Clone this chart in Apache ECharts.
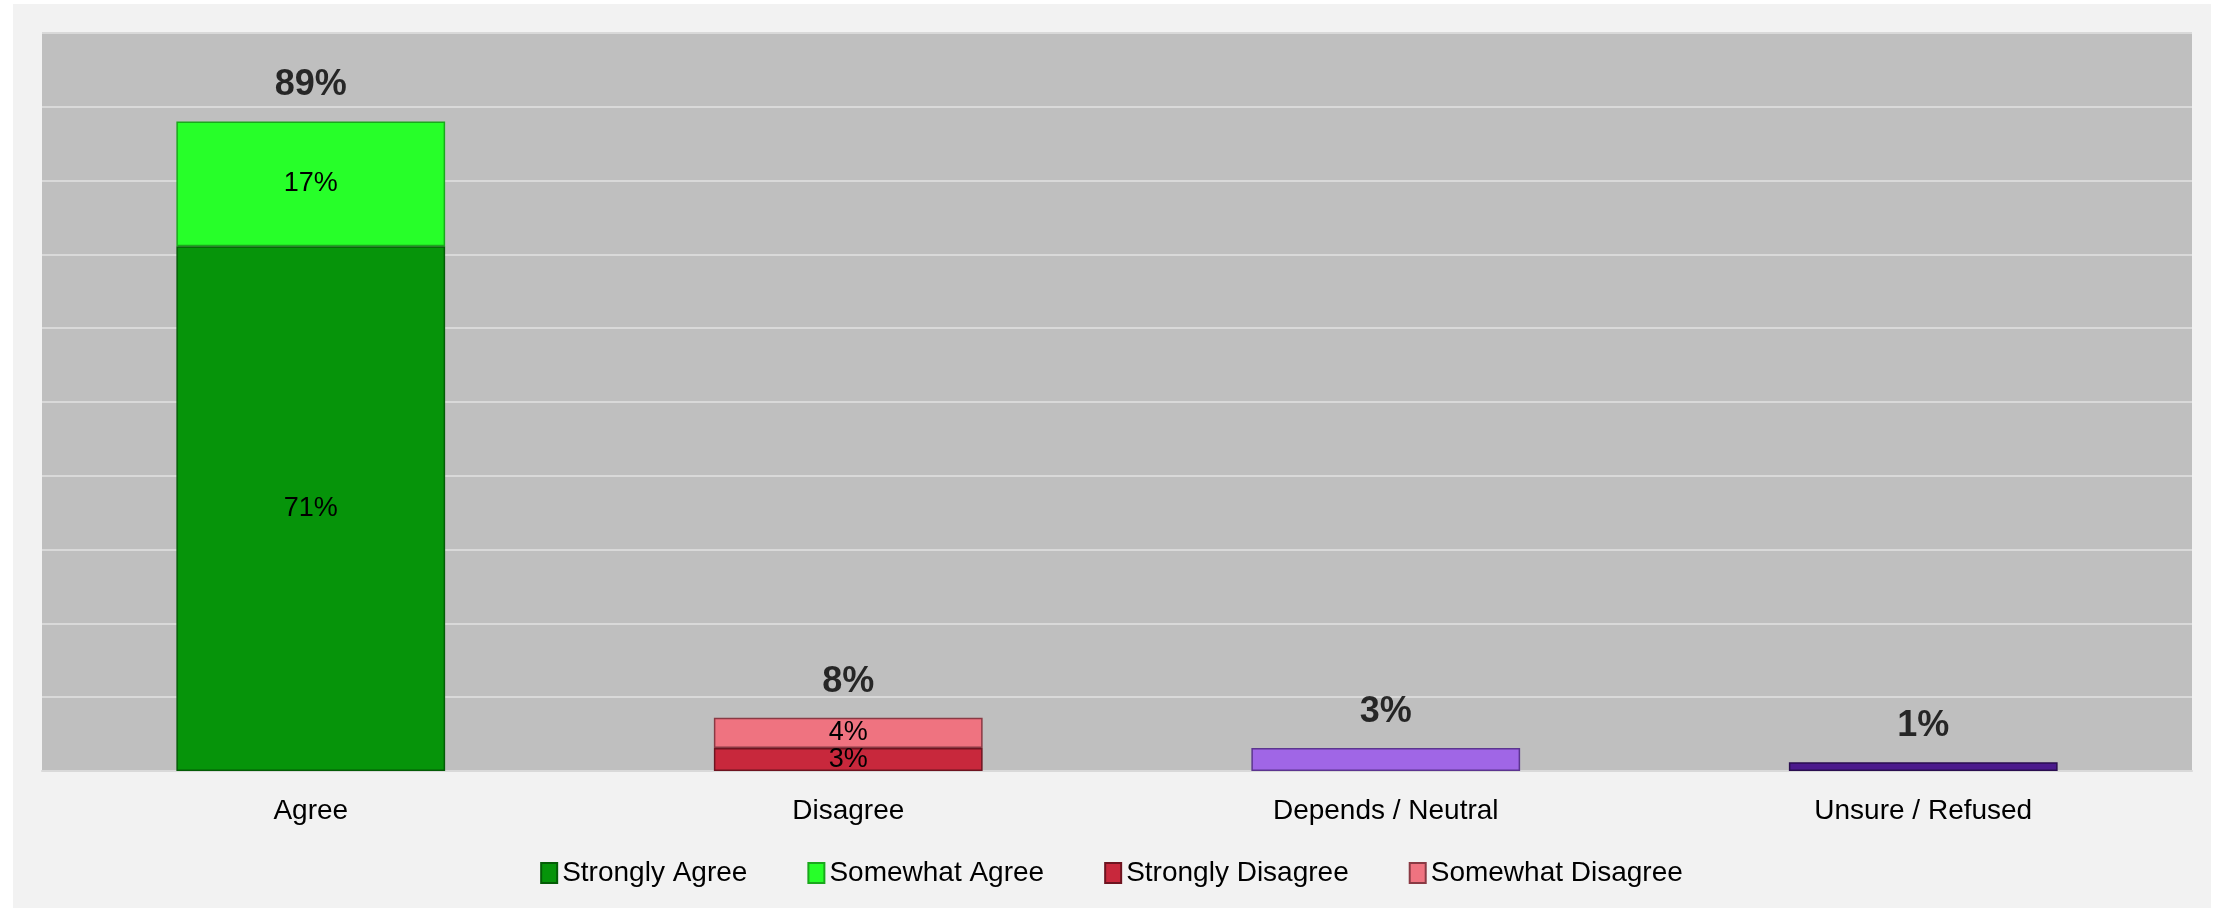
<!DOCTYPE html>
<html>
<head>
<meta charset="utf-8">
<script src="https://cdn.jsdelivr.net/npm/echarts@6/dist/echarts.min.js"></script>
<style>
  html, body { margin: 0; padding: 0; background: #ffffff; }
  #wrap { position: relative; width: 2223px; height: 912px; }
  #panel { position: absolute; left: 13px; top: 4px; width: 2198px; height: 904px; background: #f2f2f2; }
  #chart { position: absolute; left: 0; top: 0; width: 2223px; height: 912px; }
</style>
</head>
<body>
<div id="wrap">
  <div id="panel"></div>
  <div id="chart"></div>
</div>
<script>
// ---- data ----
const categories = ['Agree', 'Disagree', 'Depends / Neutral', 'Unsure / Refused'];
const stronglyAgree    = [71.1, null, null, null];
const somewhatAgree    = [16.9, null, null, null];
const stronglyDisagree = [null, 3.1, null, null];
const somewhatDisagree = [null, 4.1, null, null];
const dependsNeutral   = [null, null, 3.1, null];
const unsureRefused    = [null, null, null, 1.2];
const totalLabels      = [89, 8, 3, 1];
const yTicks = { min: 0, max: 100, interval: 10 };

const FONT = 'Liberation Sans';
const toData = arr => arr.map(v => (v === null ? '-' : v));
const stackTop = categories.map((_, i) =>
  [stronglyAgree, somewhatAgree, stronglyDisagree, somewhatDisagree, dependsNeutral, unsureRefused]
    .reduce((s, a) => s + (a[i] || 0), 0));

function barSeries(name, arr, color, border, showLabel) {
  return {
    name: name,
    type: 'bar',
    stack: 'total',
    barWidth: '50%',
    data: toData(arr),
    itemStyle: { color: color, borderColor: border, borderWidth: 1.5 },
    label: {
      show: showLabel,
      position: 'inside',
      fontFamily: FONT,
      fontSize: 27,
      color: '#000',
      formatter: p => Math.round(p.value) + '%'
    },
    emphasis: { disabled: true }
  };
}

const chart = echarts.init(document.getElementById('chart'), null, { renderer: 'canvas' });
chart.setOption({
  backgroundColor: 'transparent',
  animation: false,
  textStyle: { fontFamily: FONT },
  grid: {
    left: 42, right: 31, top: 33, bottom: 141,
    show: true, backgroundColor: '#bfbfbf', borderWidth: 0
  },
  legend: {
    data: ['Strongly Agree', 'Somewhat Agree', 'Strongly Disagree', 'Somewhat Disagree'],
    left: 'center',
    top: 854,
    itemWidth: 16,
    itemHeight: 20,
    itemGap: 60,
    icon: 'rect',
    textStyle: { fontFamily: FONT, fontSize: 28, color: '#000' }
  },
  xAxis: {
    type: 'category',
    data: categories,
    axisLine: { show: true, lineStyle: { color: '#d9d9d9', width: 2 } },
    axisTick: { show: false },
    axisLabel: { fontFamily: FONT, fontSize: 28, color: '#000', margin: 26 }
  },
  yAxis: {
    type: 'value',
    min: yTicks.min, max: yTicks.max, interval: yTicks.interval,
    axisLine: { show: false },
    axisTick: { show: false },
    axisLabel: { show: false },
    splitLine: { show: true, lineStyle: { color: '#d9d9d9', width: 2 } }
  },
  series: [
    barSeries('Strongly Agree', stronglyAgree, '#06940a', '#045c06', true),
    barSeries('Somewhat Agree', somewhatAgree, '#27ff29', '#1aa81c', true),
    barSeries('Strongly Disagree', stronglyDisagree, '#c8283c', '#6e1420', true),
    barSeries('Somewhat Disagree', somewhatDisagree, '#ef7380', '#8a3a44', true),
    barSeries('Depends / Neutral', dependsNeutral, '#a066e6', '#5c3590', false),
    barSeries('Unsure / Refused', unsureRefused, '#4b1a8c', '#2a0e50', false),
    {
      name: 'Total',
      type: 'scatter',
      symbolSize: 0,
      data: stackTop,
      label: {
        show: true,
        position: 'top',
        distance: 18,
        fontFamily: FONT,
        fontSize: 36,
        fontWeight: 'bold',
        color: '#000',
        formatter: p => totalLabels[p.dataIndex] + '%'
      },
      emphasis: { disabled: true },
      z: 5
    }
  ]
});
</script>
</body>
</html>
